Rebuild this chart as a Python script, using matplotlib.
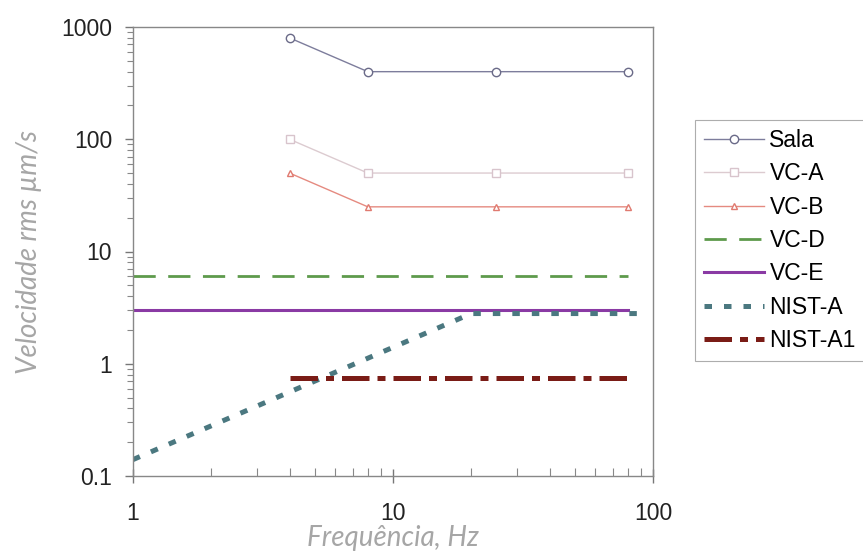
import matplotlib
matplotlib.use("Agg")
import matplotlib.pyplot as plt
from matplotlib.ticker import FixedLocator, FixedFormatter, LogLocator, NullFormatter

# Data
freq_pts = [4, 8, 25, 80]
sala = [800, 400, 400, 400]
vc_a = [100, 50, 50, 50]
vc_b = [50, 25, 25, 25]

freq_line = [1, 80]
vc_d = [6, 6]
vc_e = [3, 3]

nist_a_freq = [1, 20, 90]
nist_a = [0.14, 2.8, 2.8]

nist_a1_freq = [4, 80]
nist_a1 = [0.75, 0.75]

x_ticks = [1, 10, 100]
x_tick_labels = ["1", "10", "100"]
y_ticks = [0.1, 1, 10, 100, 1000]
y_tick_labels = ["0.1", "1", "10", "100", "1000"]

plt.rcParams['font.family'] = ['Liberation Sans', 'DejaVu Sans']

fig = plt.figure(figsize=(8.63, 5.59), dpi=100)
ax = fig.add_axes([133/863, 1-476/559, (653-133)/863, (476-27)/559])

ax.plot(freq_pts, sala, color='#7d7d9c', lw=1, marker='o', ms=6, mfc='white', mec='#6a6a88', label='Sala')
ax.plot(freq_pts, vc_a, color='#dccbd0', lw=1, marker='s', ms=6, mfc='white', mec='#d8c4cc', label='VC-A')
ax.plot(freq_pts, vc_b, color='#e58a80', lw=1, marker='^', ms=5, mfc='white', mec='#e07a70', label='VC-B')
ax.plot(freq_line, vc_d, color='#5e9a4c', lw=2, dashes=(8, 4.5), label='VC-D')
ax.plot(freq_line, vc_e, color='#8a3aa4', lw=2.2, label='VC-E')
ax.plot(nist_a_freq, nist_a, color='#4b7880', lw=3.6, dashes=(1.5, 2.4), label='NIST-A')
ax.plot(nist_a1_freq, nist_a1, color='#7a1c16', lw=3.6, dashes=(5.5, 1.6, 1.6, 1.6), label='NIST-A1')

ax.set_xscale('log')
ax.set_yscale('log')
ax.set_xlim(1, 100)
ax.set_ylim(0.1, 1000)

ax.xaxis.set_major_locator(FixedLocator(x_ticks))
ax.xaxis.set_major_formatter(FixedFormatter(x_tick_labels))
ax.yaxis.set_major_locator(FixedLocator(y_ticks))
ax.yaxis.set_major_formatter(FixedFormatter(y_tick_labels))
ax.xaxis.set_minor_locator(LogLocator(base=10, subs=range(2, 10)))
ax.yaxis.set_minor_locator(LogLocator(base=10, subs=range(2, 10)))
ax.xaxis.set_minor_formatter(NullFormatter())
ax.yaxis.set_minor_formatter(NullFormatter())

ax.tick_params(axis='x', which='major', direction='inout', length=10, width=1, color='#777777',
               labelsize=16.5, pad=14, labelcolor='#222222')
ax.tick_params(axis='x', which='minor', direction='in', length=6, width=0.8, color='#888888')
ax.tick_params(axis='y', which='major', direction='out', length=6, width=1, color='#777777',
               labelsize=16.5, pad=9, labelcolor='#222222')
ax.tick_params(axis='y', which='minor', direction='out', length=4, width=0.8, color='#888888')

for s in ax.spines.values():
    s.set_color('#888888')
    s.set_linewidth(1)

ax.set_xlabel('Frequência, Hz', fontsize=20, fontstyle='italic', fontweight='normal',
              color='#a6a6a6', family=['Lato', 'DejaVu Sans'], labelpad=0)
ax.set_ylabel('Velocidade rms µm/s', fontsize=20, fontstyle='italic', fontweight='normal',
              color='#a6a6a6', family=['Lato', 'DejaVu Sans'], labelpad=14)

leg = fig.legend(loc='upper left', bbox_to_anchor=(695/863, 1-120/559), fontsize=16.5,
                 handlelength=2.6, handletextpad=0.25, labelspacing=0.45, borderpad=0.4,
                 borderaxespad=0, frameon=True, fancybox=False, edgecolor='#999999')
leg.get_frame().set_linewidth(0.8)

fig.savefig('out.png', dpi=100)
